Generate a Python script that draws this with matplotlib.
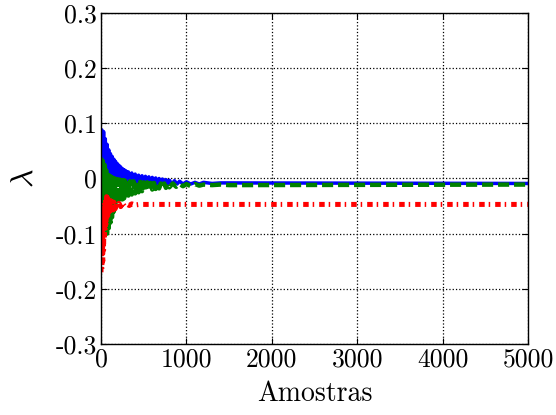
import numpy as np
import matplotlib
matplotlib.use('Agg')
import matplotlib.pyplot as plt

plt.rcParams['font.family'] = 'cmr10'
plt.rcParams['mathtext.fontset'] = 'cm'
plt.rcParams['axes.unicode_minus'] = False
plt.rcParams['axes.formatter.use_mathtext'] = True

# lambda estimates per sample for the three filters
blue_n = [0, 10, 20, 30, 40, 50, 60, 70, 80, 90, 100, 110, 120, 130, 140, 150, 160,
          170, 180, 190, 200, 210, 220, 230, 240, 250, 260, 270, 280, 290, 300,
          320, 340, 360, 380, 400, 420, 440, 460, 480, 500, 520, 540, 560, 580, 600,
          620, 640, 660, 680, 700, 720, 740, 760, 780, 800,
          830, 860, 890, 920, 960, 1000, 1050, 1100, 1150, 1200, 1300, 1400, 5000]
blue_v = [0.05, 0.088, 0.01, 0.085, 0.005, 0.072, 0.0, 0.062, -0.002, 0.052, -0.003,
          0.045, -0.004, 0.04, -0.005, 0.035, -0.005, 0.031, -0.006, 0.027, -0.006,
          0.024, -0.007, 0.021, -0.007, 0.018, -0.007, 0.016, -0.008, 0.014, -0.008,
          0.012, -0.008, 0.01, -0.008, 0.008, -0.009, 0.006, -0.009, 0.005, -0.009,
          0.004, -0.009, 0.003, -0.009, 0.002, -0.009, 0.001, -0.01, 0.0, -0.01,
          -0.001, -0.01, -0.002, -0.01, -0.003,
          -0.01, -0.004, -0.01, -0.005, -0.01, -0.006, -0.01, -0.007, -0.01, -0.007,
          -0.009, -0.008, -0.009]

green_n = [0, 10, 20, 30, 40, 50, 60, 70, 80, 90, 100, 110, 120, 130, 140, 150, 160,
           170, 180, 190, 200, 210, 220, 230, 240, 250, 260, 270, 280, 290, 300,
           320, 340, 360, 380, 400, 420, 440, 460, 480, 500, 520, 540, 560, 580, 600,
           620, 640, 660, 680, 700, 720, 740, 760, 780, 800,
           840, 880, 920, 960, 1000, 1050, 1100, 1150, 1200, 1300, 1400, 1500, 5000]
green_v = [0.038, -0.03, 0.032, -0.07, 0.025, -0.095, 0.015, -0.1, 0.01, -0.09, 0.005,
           -0.08, 0.003, -0.07, 0.001, -0.06, 0.0, -0.053, -0.001, -0.048, -0.002,
           -0.044, -0.002, -0.041, -0.003, -0.038, -0.003, -0.036, -0.004, -0.034,
           -0.004,
           -0.031, -0.005, -0.029, -0.005, -0.027, -0.006, -0.025, -0.006, -0.023,
           -0.007, -0.022, -0.007, -0.021, -0.008, -0.02, -0.008, -0.019, -0.008,
           -0.018, -0.009, -0.017, -0.009, -0.017, -0.009, -0.016,
           -0.009, -0.015, -0.01, -0.014, -0.01, -0.014, -0.01, -0.013, -0.011,
           -0.012, -0.011, -0.012, -0.011]

red_n = [0, 5, 10, 15, 20, 25, 30, 35, 40, 45, 50, 55, 60, 65, 70, 75, 80, 90, 100,
         110, 120, 130, 140, 150, 165, 180, 195, 210, 230, 250, 275, 300, 330, 360,
         400, 450, 5000]
red_v = [-0.17, -0.07, -0.165, -0.065, -0.15, -0.06, -0.13, -0.05, -0.11, -0.04,
         -0.095, -0.035, -0.085, -0.033, -0.075, -0.035, -0.07, -0.038, -0.065,
         -0.04, -0.06, -0.042, -0.057, -0.043, -0.055, -0.044, -0.053, -0.045,
         -0.051, -0.045, -0.05, -0.046, -0.049, -0.046, -0.048, -0.047, -0.047]

xticks = [0, 1000, 2000, 3000, 4000, 5000]
yticks = [-0.3, -0.2, -0.1, 0, 0.1, 0.2, 0.3]
ylabels = ['-0.3', '-0.2', '-0.1', '0', '0.1', '0.2', '0.3']

fig = plt.figure(figsize=(5.56, 4.15), dpi=100)
ax = fig.add_axes([0.1817, 0.1711, 0.7679, 0.7976])

ax.plot(blue_n, blue_v, color='#0000ff', lw=2.5)
ax.plot(green_n, green_v, color='#008000', lw=3.2, linestyle=(0, (2.5, 1.1)))
ax.plot(red_n, red_v, color='#ff0000', lw=3.6, linestyle=(0, (1.1, 0.8, 0.3, 1.0)))

ax.set_xlim(0, 5000)
ax.set_ylim(-0.3, 0.3)
ax.set_xticks(xticks)
ax.set_xticklabels([str(t) for t in xticks])
ax.set_yticks(yticks)
ax.set_yticklabels(ylabels)
ax.tick_params(direction='in', top=True, right=True, labelsize=18.5, length=4, pad=3)
ax.grid(True, linestyle=':', color='black', lw=0.9)
for s in ax.spines.values():
    s.set_linewidth(1.0)

ax.set_xlabel('Amostras', fontsize=20, labelpad=6)
ax.set_ylabel(r'$\lambda$', fontsize=23, labelpad=12)

fig.savefig('out.png', dpi=100)
